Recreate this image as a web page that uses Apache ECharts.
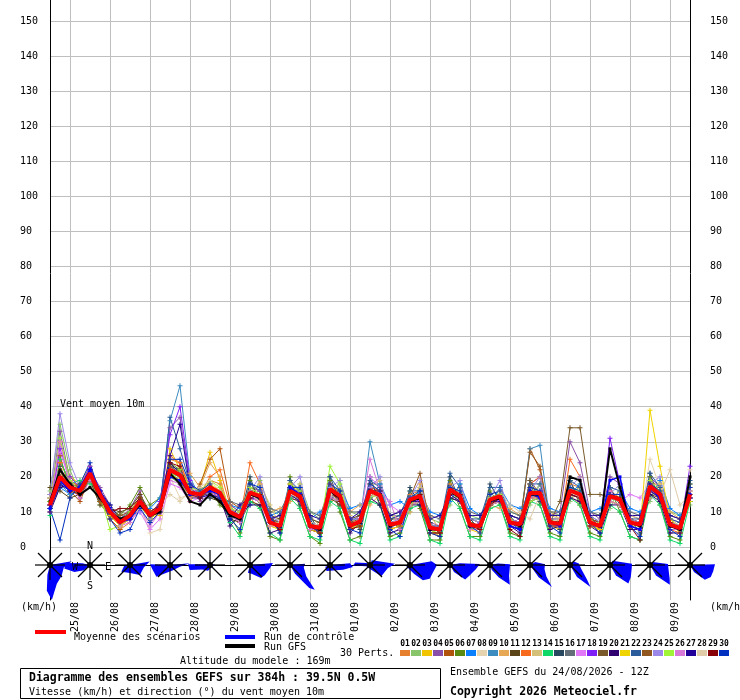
<!DOCTYPE html>
<html>
<head>
<meta charset="utf-8">
<script src="https://cdn.jsdelivr.net/npm/echarts@6.0.0/dist/echarts.min.js"></script>
<style>
  html, body { margin: 0; padding: 0; background: #fff; }
  #chart { width: 740px; height: 700px; }
</style>
</head>
<body>
<div id="chart"></div>
<script>
// time steps: every 6h from 24/08 12Z to +384h
var hours = [];
for (var h = 0; h <= 384; h += 6) hours.push(h);

var dayLabels = ['25/08','26/08','27/08','28/08','29/08','30/08','31/08','01/09',
                 '02/09','03/09','04/09','05/09','06/09','07/09','08/09','09/09'];

var meanWind = [12,20,17,16,21, 15,10,7,9,13, 9,11,22,20.5,15.5, 15,17,15.5,10,8.5,
  15.5,14.5,7,6,16, 14.5,6,5.5,16.5,14.5, 6,7.3,16,14.8,6.4, 7,13.5,14.5,5.5,5,
  16.4,14.5,6.3,6,13.5, 14.5,7,6.5,15.4,15.4, 7,6.6,16.1,15,7, 6,14.5,13.5,7,6.4,
  17.3,15,6.4,5.4,15];

var controlRun = [11,19,16,17,22,16,11,7,8,12,9,11,20,19,15,15,16,15,10,9,15,14,7,6,17,15,6,5,16,14,6,7,16,15,6,7,13,14,5,5,16,14,6,6,13,14,6,5,16,14,7,6,16,15,7,6,19,20,6,5,17,14,6,5,15];
var gfsRun = [13,22,18,15,17,14,10,8,9,12,9,10,21,18,13,12,15,13,9,8,15,14,7,6,16,14,6,5,16,14,6,7,16,15,6,7,13,14,5,5,16,14,6,6,13,14,7,6,15,15,7,7,20,19,7,6,28,17,7,6,17,15,6,5,20];

var p01 = [14,24,19,17,22,13,8,5,7,15,8,13,25,24,17,14,19,18,9,7,17,16,8,5,18,15,5,4,18,15,5,8,18,16,7,6,15,16,4,3,18,15,5,7,15,16,8,5,17,16,6,8,18,17,8,5,15,14,6,5,19,17,7,4,17];
var p02 = [16,35,22,15,19,12,9,8,10,12,8,12,20,18,14,16,15,13,12,10,13,19,11,9,13,18,10,8,12,19,10,9,13,18,9,9,10,17,8,7,12,18,9,8,11,17,10,9,12,18,10,9,13,18,10,9,11,17,9,9,13,19,10,9,12];
var p03 = [11,30,20,18,23,16,11,6,8,11,10,9,28,22,13,17,27,19,10,9,16,15,6,5,17,15,6,4,17,16,5,7,17,14,5,6,14,15,5,3,17,15,5,4,14,15,6,5,16,14,6,5,17,16,6,5,15,14,6,5,18,16,7,4,16];
var p04 = [13,33,19,14,22,17,12,8,11,16,7,10,34,37,18,13,15,14,12,10,17,16,9,7,14,13,7,6,15,12,7,9,17,16,8,9,12,13,7,6,15,13,8,7,12,13,9,8,18,20,9,10,30,24,10,8,20,18,9,8,20,17,8,7,14];
var p05 = [15,26,16,13,20,14,8,5,10,14,9,12,20,19,14,18,25,28,13,11,14,13,8,6,17,15,7,5,16,14,5,6,15,14,6,7,13,14,5,5,17,14,7,6,12,15,7,6,28,22,8,7,16,15,8,7,14,13,7,6,16,14,6,5,15];
var p06 = [10,21,17,18,20,13,11,9,12,17,12,14,24,22,16,15,16,12,9,4,19,12,3,2,20,11,3,1,19,10,2,3,18,12,3,4,16,11,2,2,19,11,3,3,16,12,4,3,18,12,4,3,19,12,4,3,17,10,3,2,20,12,3,2,18];
var p07 = [11,17,15,16,22,15,12,8,9,10,11,14,23,21,14,16,14,16,12,11,12,17,9,10,14,17,8,10,13,17,11,12,14,18,12,13,11,16,10,9,13,18,11,9,12,17,12,11,14,18,11,10,15,18,10,11,13,16,11,10,14,19,11,9,13];
var p08 = [12,19,16,15,20,15,10,7,9,12,4,5,20,14,15,16,17,16,10,8,16,15,7,6,15,14,6,5,15,14,7,7,16,14,5,6,13,14,5,5,16,14,5,6,13,14,8,6,15,15,8,7,16,15,7,6,15,14,8,7,25,17,8,6,22];
var p09 = [12,18,15,16,20,14,10,7,8,12,9,12,36,46,20,14,16,15,10,8,16,14,7,6,16,15,6,5,17,15,6,7,30,18,6,7,14,14,6,5,17,15,6,6,14,15,7,7,28,29,7,7,17,15,7,6,15,14,7,6,17,15,6,5,15];
var p10 = [13,21,18,17,21,16,9,6,9,13,9,11,22,20,21,17,24,20,9,10,14,11,10,11,13,16,9,6,13,14,10,12,12,15,6,8,10,18,9,5,16,15,8,7,12,11,11,9,14,15,10,8,15,12,9,7,15,13,8,6,14,18,10,8,15];
var p11 = [17,16,14,15,19,12,11,10,11,15,10,10,21,19,14,17,14,13,8,7,13,12,9,8,14,13,8,7,14,12,8,9,15,14,8,8,12,13,6,6,14,13,8,7,12,13,8,7,14,14,8,8,15,14,8,7,13,12,8,7,15,14,7,6,13];
var p12 = [12,24,19,17,21,13,9,6,8,14,10,12,26,24,16,15,20,22,12,8,24,18,7,5,18,16,5,4,18,15,5,6,17,16,5,6,14,15,4,4,17,15,5,5,14,15,6,5,18,20,6,6,25,20,7,5,16,14,6,5,18,16,5,4,16];
var p13 = [14,22,17,15,20,15,10,8,9,12,8,11,20,19,15,16,18,15,11,8,15,18,12,6,14,18,8,4,16,17,9,5,17,19,9,8,12,17,6,4,15,17,8,7,11,16,9,8,14,18,9,8,15,17,8,6,13,16,9,8,15,18,8,6,14];
var p14 = [9,25,18,19,18,16,11,7,10,14,8,12,21,20,15,15,16,15,7,3,13,11,4,2,14,11,3,2,13,11,2,1,13,12,2,3,11,12,2,1,14,11,3,2,11,12,3,2,13,12,3,2,14,12,3,2,12,10,3,2,15,12,2,1,13];
var p15 = [12,23,17,17,21,15,9,7,9,13,8,11,23,22,16,15,17,16,10,8,20,12,10,4,19,12,9,4,20,13,8,5,20,12,8,5,17,12,7,4,20,13,8,5,18,13,9,5,19,13,8,5,19,13,9,5,17,12,8,4,21,13,8,5,18];
var p16 = [11,18,16,16,20,14,10,8,10,13,10,11,21,21,15,15,16,14,13,12,16,15,11,10,16,15,10,9,17,15,10,10,16,15,9,10,14,15,9,8,16,15,10,9,14,15,10,9,16,15,10,10,16,15,10,9,14,14,10,9,17,15,9,8,15];
var p17 = [10,27,19,16,22,16,10,6,8,10,5,8,18,17,13,14,15,15,10,9,15,16,7,6,15,14,6,5,15,14,6,7,20,17,12,10,13,14,5,5,16,14,6,6,13,14,7,6,15,15,7,7,16,15,7,6,16,13,15,14,18,15,6,5,15];
var p18 = [12,28,20,17,23,16,11,7,9,14,9,13,32,40,19,14,16,15,10,8,14,13,8,5,17,13,5,6,15,15,7,6,17,14,5,8,14,13,6,4,15,15,5,7,14,13,8,7,14,16,7,7,16,15,7,6,31,18,7,6,17,15,6,5,23];
var p19 = [14,20,16,15,19,14,10,8,9,13,10,12,20,22,14,16,16,14,11,9,16,13,8,7,15,15,7,4,15,15,7,6,15,16,5,8,12,15,6,4,15,15,7,5,12,14,7,6,19,15,7,13,34,34,15,15,14,13,7,6,17,15,6,5,15];
var p20 = [10,17,18,17,22,16,12,8,8,12,10,12,24,21,14,14,16,14,6,9,12,12,4,5,15,13,5,4,15,14,4,7,14,12,4,5,12,12,4,4,14,13,5,6,12,13,6,4,13,14,5,6,14,13,6,4,12,12,5,5,15,13,4,4,14];
var p21 = [13,22,16,15,20,14,9,6,8,12,8,10,21,19,14,16,18,16,11,9,16,15,6,5,15,13,5,4,15,13,5,6,15,14,5,6,12,13,4,4,15,13,5,5,12,13,6,5,14,14,6,6,15,14,6,5,13,12,6,5,39,23,8,5,13];
var p22 = [13,21,16,17,20,14,11,8,8,14,9,11,37,28,18,15,17,15,10,8,18,16,8,7,19,16,7,6,20,16,8,8,19,17,8,9,16,16,6,6,21,17,8,8,17,17,9,8,18,18,9,9,19,17,9,7,17,16,8,8,21,17,8,7,19];
var p23 = [13,21,18,17,20,13,10,9,10,14,10,12,23,21,16,14,16,14,11,9,16,13,8,7,15,14,7,6,15,14,7,8,15,14,7,6,14,21,6,4,15,13,7,6,14,14,8,7,27,23,8,6,15,14,8,7,15,14,8,7,16,14,7,6,14];
var p24 = [15,38,24,17,21,14,10,7,9,13,8,12,21,21,16,16,15,14,11,9,16,20,9,7,17,20,7,6,17,19,8,8,17,20,7,8,14,19,6,6,17,19,8,7,14,19,8,7,16,20,8,8,17,20,9,7,15,18,8,7,18,20,7,6,16];
var p25 = [13,31,19,16,20,15,5,6,10,14,10,11,20,22,17,16,19,17,11,10,17,15,7,7,18,16,7,5,23,18,6,6,14,15,7,7,12,15,4,5,15,13,5,6,14,15,8,6,13,14,6,6,17,16,6,7,14,14,6,6,19,16,6,5,15];
var p26 = [12,30,17,14,19,16,11,6,7,11,6,10,19,18,14,15,16,14,9,7,14,13,6,6,15,13,5,5,14,13,6,8,25,16,13,5,12,13,5,5,15,13,5,5,12,13,6,5,14,14,6,6,15,14,6,6,13,12,6,5,16,14,5,5,14];
var p27 = [11,18,16,17,22,16,10,7,8,13,9,12,26,35,17,14,15,14,8,12,14,14,8,9,15,13,9,8,15,13,8,10,16,14,9,10,13,13,8,9,15,13,9,9,13,13,9,8,15,14,9,9,15,14,9,9,14,13,9,9,16,14,9,8,14];
var p28 = [14,21,17,16,20,15,11,8,9,12,10,12,15,13,16,17,19,16,10,9,15,13,7,7,15,14,7,6,15,13,6,7,15,14,6,7,13,14,6,5,16,14,6,6,12,16,12,10,8,15,7,8,16,14,7,6,14,13,7,6,17,15,22,12,15];
var p29 = [12,20,16,15,20,14,10,11,11,14,10,12,24,23,15,14,17,15,10,8,14,15,7,5,17,15,6,4,16,13,5,6,16,16,7,7,13,15,4,4,15,15,6,5,12,14,5,3,16,15,6,6,15,14,6,6,15,14,6,2,18,15,7,5,15];
var p30 = [11,2,14,18,24,15,8,4,5,11,7,10,25,25,18,16,18,14,8,5,18,17,9,4,17,17,8,3,18,16,5,4,18,16,5,3,14,16,4,3,17,16,6,4,15,16,7,5,17,16,6,4,17,16,7,4,15,15,6,3,18,16,5,3,17];

var perts = [p01,p02,p03,p04,p05,p06,p07,p08,p09,p10,p11,p12,p13,p14,p15,
             p16,p17,p18,p19,p20,p21,p22,p23,p24,p25,p26,p27,p28,p29,p30];
var pertColors = ['#e6802e','#88c46a','#f0c400','#8a4fa8','#b0540c','#5a8a10','#0a80ff','#e6d4b0',
  '#3c8cc0','#e6a855','#5a4418','#f86a1e','#d4c078','#10d868','#284860','#646e78','#e078f8',
  '#8020f8','#7a5a2a','#300070','#f0d400','#2a5c9c','#905820','#9c88e8','#a0f438','#d878d8',
  '#200098','#e0cca8','#880008','#0030c0'];

// daily wind roses (12Z): [direction toward (deg), length]
var roseShapes = [
  [[80,22],[100,14],[134,16],[160,20],[177,35],[187,26],[195,10]],
  [[230,8],[246,17],[262,26],[275,24],[282,8]],
  [[80,20],[100,14],[135,14],[180,8],[232,11],[260,6]],
  [[85,20],[100,10],[150,6],[229,18],[255,18],[272,20]],
  [[80,5],[200,6],[240,9],[256,21],[272,22],[280,5]],
  [[85,23],[100,20],[125,18],[140,17],[170,9],[195,8]],
  [[85,15],[100,14],[125,20],[135,35],[140,30],[150,10]],
  [[85,20],[95,23],[110,14],[130,8],[210,7],[250,5]],
  [[20,5],[60,8],[87,25],[100,18],[135,16],[180,4],[250,4],[268,17],[280,15],[300,4]],
  [[80,22],[90,27],[110,24],[125,24],[140,20],[155,10],[250,4]],
  [[80,10],[88,30],[100,26],[120,22],[134,21],[150,8]],
  [[80,8],[88,20],[100,20],[120,22],[135,28],[145,15],[160,5]],
  [[60,6],[87,15],[105,15],[125,20],[135,31],[145,15]],
  [[40,5],[80,9],[110,12],[130,22],[137,30],[150,14]],
  [[30,5],[87,22],[100,22],[120,24],[135,26],[150,12]],
  [[40,4],[87,18],[110,20],[125,24],[135,28],[150,12]],
  [[88,25],[105,24],[120,24],[135,21],[150,8]]
];

var MONO = '"DejaVu Sans Mono", monospace';
var plus = 'path://M-1,-5H1V-1H5V1H1V5H-1V1H-5V-1H-1Z';

function isMidnight(i) { return i % 4 === 2; }

var series = [];
perts.forEach(function (d, i) {
  series.push({
    type: 'line', data: d, xAxisIndex: 0, yAxisIndex: 0,
    symbol: plus, symbolSize: 5, showAllSymbol: true,
    lineStyle: { width: 1, color: pertColors[i] },
    itemStyle: { color: pertColors[i] },
    silent: true, z: 2
  });
});
series.push({
  type: 'line', data: controlRun, xAxisIndex: 0, yAxisIndex: 0,
  symbol: 'rect', symbolSize: 3, showAllSymbol: true,
  lineStyle: { width: 1.5, color: '#0000ff' }, itemStyle: { color: '#0000ff' }, z: 3
});
series.push({
  type: 'line', data: gfsRun, xAxisIndex: 0, yAxisIndex: 0,
  symbol: 'rect', symbolSize: 3, showAllSymbol: true,
  lineStyle: { width: 2, color: '#000' }, itemStyle: { color: '#000' }, z: 4
});
series.push({
  type: 'line', data: meanWind, xAxisIndex: 0, yAxisIndex: 0,
  symbol: 'none', lineStyle: { width: 4, color: '#ff0000' }, z: 5
});

function renderRose(params, api) {
  var k = api.value(1);
  var c = api.coord([api.value(0), 0]);
  var pts = [[c[0], c[1]]];
  roseShapes[k].forEach(function (v) {
    var a = v[0] * Math.PI / 180;
    pts.push([c[0] + v[1] * Math.sin(a), c[1] - v[1] * Math.cos(a)]);
  });
  var kids = [{ type: 'polygon', shape: { points: pts }, style: { fill: '#0000ff' } }];
  [[0,-15,0,15],[-15,0,15,0],[-12,-12,12,12],[-12,12,12,-12]].forEach(function (a) {
    kids.push({ type: 'line',
      shape: { x1: c[0] + a[0], y1: c[1] + a[1], x2: c[0] + a[2], y2: c[1] + a[3] },
      style: { stroke: '#000', lineWidth: 1.2 } });
  });
  kids.push({ type: 'circle', shape: { cx: c[0], cy: c[1], r: 3 }, style: { fill: '#000' } });
  if (k === 1) {
    [['N',0,-19],['W',-15,2],['E',18,2],['S',0,21]].forEach(function (t) {
      kids.push({ type: 'text', style: { text: t[0], x: c[0] + t[1], y: c[1] + t[2],
        font: '10px ' + MONO, fill: '#000', align: 'center', verticalAlign: 'middle' } });
    });
  }
  return { type: 'group', children: kids };
}

series.push({
  type: 'custom', xAxisIndex: 1, yAxisIndex: 2,
  data: roseShapes.map(function (s, k) { return [k * 4, k]; }),
  renderItem: renderRose, silent: true, z: 6
});

var graphic = [];
function txt(s, x, y, font) {
  graphic.push({ type: 'text', silent: true, z: 10,
    style: { text: s, x: x, y: y, font: font || ('10px ' + MONO), fill: '#000', verticalAlign: 'middle' } });
}
txt('Vent moyen 10m', 60, 404);
txt('(km/h)', 21, 607);
txt('(km/h)', 710, 607);
graphic.push({ type: 'rect', shape: { x: 35, y: 630, width: 31, height: 4 }, style: { fill: '#ff0000' } });
txt('Moyenne des scénarios', 74, 637);
graphic.push({ type: 'rect', shape: { x: 225, y: 635, width: 30, height: 4 }, style: { fill: '#0000ff' } });
txt('Run de contrôle', 264, 637);
graphic.push({ type: 'rect', shape: { x: 225, y: 644, width: 30, height: 4 }, style: { fill: '#000' } });
txt('Run GFS', 264, 647);
txt('30 Perts.', 340, 653);
pertColors.forEach(function (c, i) {
  var x = 400 + 11 * i;
  graphic.push({ type: 'rect', shape: { x: x, y: 650, width: 10, height: 6 }, style: { fill: c } });
  graphic.push({ type: 'text', style: { text: (i < 9 ? '0' : '') + (i + 1), x: x + 5, y: 644,
    font: 'bold 8px ' + MONO, fill: '#000', align: 'center', verticalAlign: 'middle' } });
});
txt('Altitude du modele : 169m', 180, 661);
graphic.push({ type: 'rect', shape: { x: 20.5, y: 668.5, width: 420, height: 30 },
  style: { fill: 'none', stroke: '#000', lineWidth: 1 } });
txt('Diagramme des ensembles GEFS sur 384h : 39.5N 0.5W', 29, 678, 'bold 11.5px ' + MONO);
txt('Vitesse (km/h) et direction (°) du vent moyen 10m', 29, 692);
txt('Ensemble GEFS du 24/08/2026 - 12Z', 450, 672);
txt('Copyright 2026 Meteociel.fr', 450, 692, 'bold 11.5px ' + MONO);

var gridLine = { show: true, interval: function (i) { return isMidnight(i); },
  lineStyle: { color: '#bfbfbf', width: 1 } };

var option = {
  animation: false,
  backgroundColor: '#fff',
  grid: [
    { left: 50, right: 50, top: 0, height: 547 },
    { left: 50, right: 50, top: 547, height: 53 }
  ],
  xAxis: [
    { type: 'category', gridIndex: 0, data: hours, boundaryGap: false,
      axisLine: { show: false }, axisTick: { show: false }, axisLabel: { show: false },
      splitLine: gridLine },
    { type: 'category', gridIndex: 1, data: hours, boundaryGap: false,
      axisLine: { show: true, lineStyle: { color: '#000', width: 1 } },
      axisTick: { show: false },
      splitLine: gridLine,
      axisLabel: { show: true, rotate: 90, margin: 2, verticalAlign: 'top',
        interval: function (i) { return isMidnight(i); },
        formatter: function (v, i) { return dayLabels[(i - 2) / 4]; },
        fontFamily: MONO, fontSize: 10, color: '#000' } }
  ],
  yAxis: [
    { type: 'value', gridIndex: 0, min: 0, max: 156, interval: 10, position: 'left',
      axisLine: { show: true, lineStyle: { color: '#000', width: 1 } }, axisTick: { show: false },
      axisLabel: { align: 'left', margin: 30, showMaxLabel: false, fontFamily: MONO, fontSize: 10, color: '#000' },
      splitLine: { show: true, showMaxLine: false, lineStyle: { color: '#bfbfbf', width: 1 } } },
    { type: 'value', gridIndex: 0, min: 0, max: 156, interval: 10, position: 'right',
      axisLine: { show: true, lineStyle: { color: '#000', width: 1 } }, axisTick: { show: false },
      axisLabel: { align: 'left', margin: 20, showMaxLabel: false, fontFamily: MONO, fontSize: 10, color: '#000' },
      splitLine: { show: false } },
    { type: 'value', gridIndex: 1, min: -35, max: 18, position: 'left',
      axisLine: { show: true, lineStyle: { color: '#000', width: 1 } }, axisTick: { show: false },
      axisLabel: { show: false }, splitLine: { show: false } },
    { type: 'value', gridIndex: 1, min: -35, max: 18, position: 'right',
      axisLine: { show: true, lineStyle: { color: '#000', width: 1 } }, axisTick: { show: false },
      axisLabel: { show: false }, splitLine: { show: false } }
  ],
  graphic: graphic,
  series: series
};

var myChart = echarts.init(document.getElementById('chart'));
myChart.setOption(option);
</script>
</body>
</html>
